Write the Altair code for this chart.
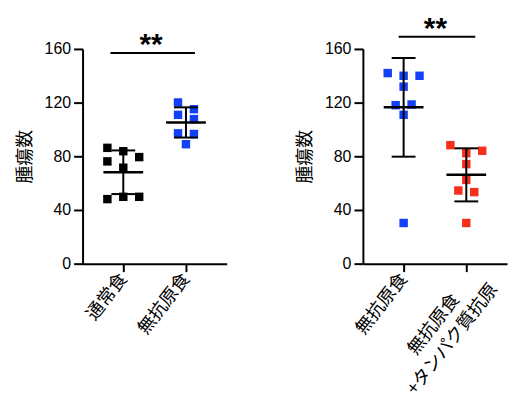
import altair as alt
import pandas as pd

# 左パネル: 通常食 vs 無抗原食
left_groups = ["通常食", "無抗原食"]
left_colors = ["#000000", "#1240f5"]
normal_diet = [86.3, 76.2, 83.8, 79.4, 71.5, 48.1, 49.8, 49.8]
normal_slot = [-2, -2, 0, 2, 0, -2, 0, 2]
free_diet_a = [120.1, 115.1, 110.9, 107.7, 97.1, 96.6, 89.0]
free_slot_a = [-1, 1, -1, 1, -1, 1, 0]

# 右パネル: 無抗原食 vs 無抗原食+タンパク質抗原
right_groups = ["無抗原食", "無抗原食\n+タンパク質抗原"]
right_colors = ["#1240f5", "#f5301a"]
free_diet_b = [142.0, 140.0, 140.0, 131.9, 118.1, 118.6, 110.9, 30.3]
free_slot_b = [-2, 0, 2, 0, -1, 1, 0, 0]
protein_diet = [88.3, 84.1, 82.3, 74.2, 62.4, 54.5, 53.3, 30.3]
protein_slot = [-2, 2, 0, 0, 0, -1, 1, 0]

y_ticks = [0, 40, 80, 120, 160]
bracket_y = [157, 169]
stars = "**"

CJK = "Noto Sans CJK JP"
MULTI = "indexof(datum.label, '\\n') >= 0"


def x_enc(field, groups):
    return alt.X(
        field,
        title=None,
        scale=alt.Scale(type="point", domain=groups, padding=0.65),
        axis=alt.Axis(
            labelAngle=308,
            labelFont=CJK,
            labelFontSize=18,
            labelColor="black",
            labelAlign=alt.condition(MULTI, alt.value("center"), alt.value("right")),
            labelPadding=alt.condition(MULTI, alt.value(53), alt.value(4)),
            labelOffset=alt.condition(MULTI, alt.value(-33), alt.value(0)),
            labelLineHeight=24,
            labelExpr="split(datum.label, '\\n')",
            tickSize=8,
            tickWidth=2,
            tickColor="black",
            domainWidth=2,
            domainColor="black",
            grid=False,
        ),
    )


def y_enc(field):
    return alt.Y(
        field,
        title="腫瘍数",
        scale=alt.Scale(domain=[0, 160], nice=False),
        axis=alt.Axis(
            values=y_ticks,
            tickSize=9,
            tickWidth=2,
            tickColor="black",
            domainWidth=2,
            domainColor="black",
            labelFontSize=16,
            labelColor="black",
            labelPadding=3,
            titleFont=CJK,
            titleFontSize=18,
            titleFontWeight="normal",
            titleColor="black",
            titlePadding=10,
            grid=False,
        ),
    )


def panel(groups, colors, vals_a, slots_a, vals_b, slots_b, bracket, off1, off2, star_dx):
    df = pd.DataFrame({
        "group": [groups[0]] * len(vals_a) + [groups[1]] * len(vals_b),
        "value": vals_a + vals_b,
        "slot": slots_a + slots_b,
    })
    base = alt.Chart(df)

    points = base.mark_point(shape="square", filled=True, size=72, opacity=1).encode(
        x=x_enc("group:N", groups),
        y=y_enc("value:Q"),
        xOffset=alt.XOffset("slot:Q", scale=alt.Scale(domain=[-2, 2], range=[-16, 16])),
        color=alt.Color("group:N", scale=alt.Scale(domain=groups, range=colors), legend=None),
    )

    stats = base.transform_aggregate(
        m="mean(value)", sd="stdev(value)", groupby=["group"]
    ).transform_calculate(lo="datum.m - datum.sd", hi="datum.m + datum.sd")

    err = stats.mark_rule(color="black", strokeWidth=2).encode(
        x=x_enc("group:N", groups), y=y_enc("lo:Q"), y2="hi:Q"
    )
    mean_tick = stats.mark_tick(color="black", size=40, thickness=2.5, opacity=1).encode(
        x=x_enc("group:N", groups), y=y_enc("m:Q")
    )
    lo_tick = stats.mark_tick(color="black", size=24, thickness=2, opacity=1).encode(
        x=x_enc("group:N", groups), y=y_enc("lo:Q")
    )
    hi_tick = stats.mark_tick(color="black", size=24, thickness=2, opacity=1).encode(
        x=x_enc("group:N", groups), y=y_enc("hi:Q")
    )

    bdf = pd.DataFrame({"g1": [groups[0]], "g2": [groups[1]], "y": [bracket], "label": [stars]})
    line = alt.Chart(bdf).mark_rule(
        color="black", strokeWidth=2, xOffset=off1, x2Offset=off2
    ).encode(x=x_enc("g1:N", groups), x2="g2:N", y=y_enc("y:Q"))
    star_text = alt.Chart(bdf).mark_text(
        fontSize=30, fontWeight="bold", baseline="alphabetic", align="center",
        dx=star_dx, dy=1, color="black",
    ).encode(x=x_enc("g1:N", groups), y=y_enc("y:Q"), text="label:N")

    return alt.layer(points, err, mean_tick, lo_tick, hi_tick, line, star_text).properties(
        width=145, height=216
    )


left = panel(left_groups, left_colors, normal_diet, normal_slot,
             free_diet_a, free_slot_a, bracket_y[0], -13, 9, 28)
right = panel(right_groups, right_colors, free_diet_b, free_slot_b,
              protein_diet, protein_slot, bracket_y[1], -5, 9, 32)

chart = alt.hconcat(left, right, spacing=70).resolve_scale(color="independent").properties(
    padding={"left": 8, "top": 4, "right": 5, "bottom": 5}
).configure(font="Liberation Sans").configure_view(stroke=None)

chart.save("out.html", embed_options={"renderer": "svg", "actions": False})
